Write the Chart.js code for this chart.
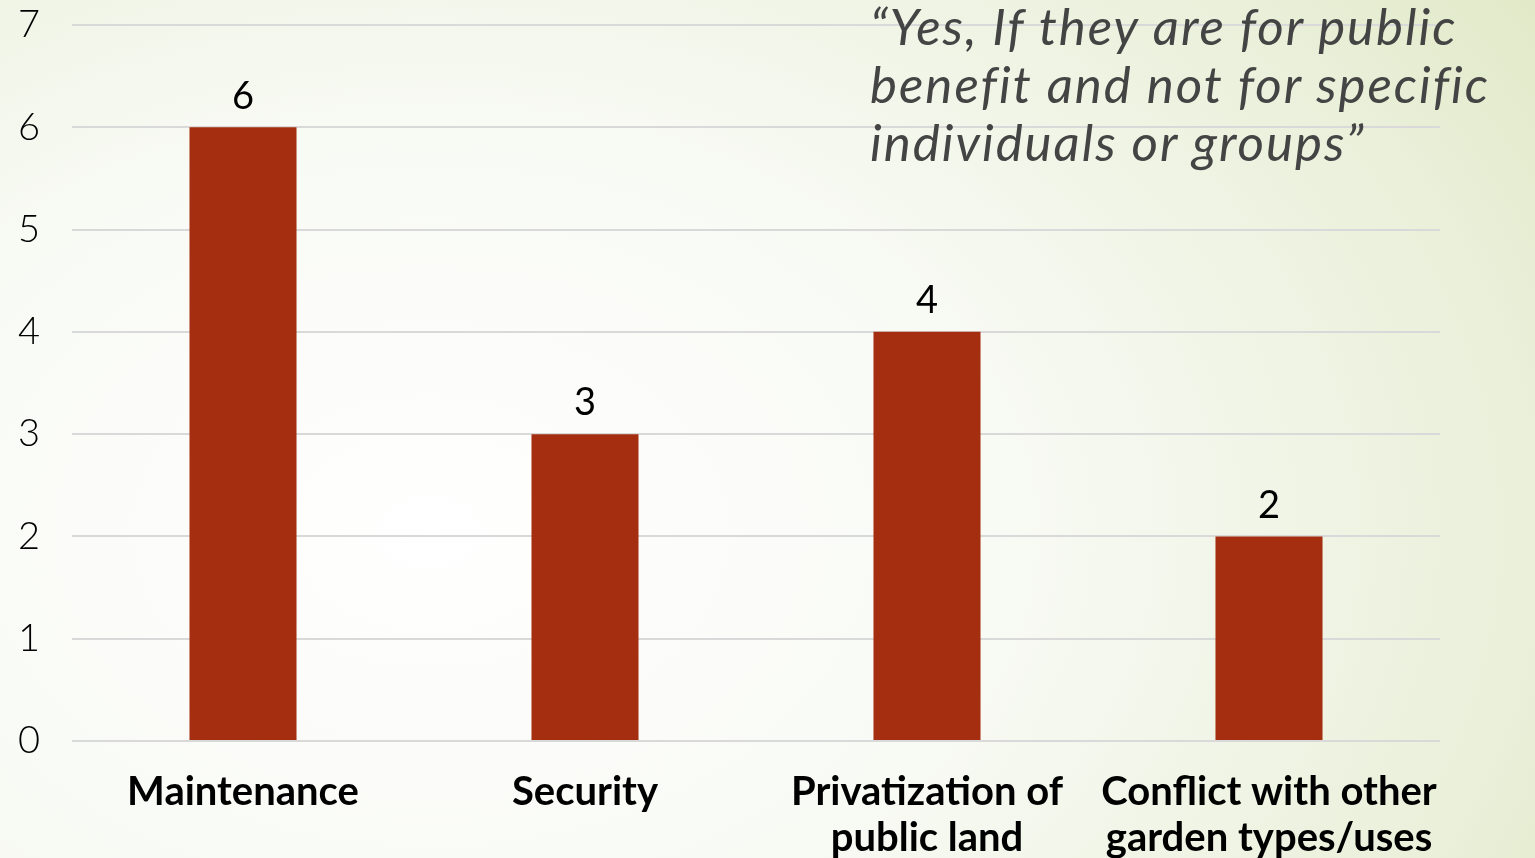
<!DOCTYPE html>
<html>
<head>
<meta charset="utf-8">
<script src="https://cdn.jsdelivr.net/npm/chart.js@4"></script>
<style>
  html, body {
    margin: 0;
    padding: 0;
    width: 1535px;
    height: 858px;
    overflow: hidden;
  }
  body {
    background: radial-gradient(ellipse 95% 120% at 28% 62%, #ffffff 0%, #f8faf4 40%, #eaf0da 75%, #dce6bf 100%);
    position: relative;
  }
  #wrap {
    position: absolute;
    left: 0;
    top: 0;
    width: 1535px;
    height: 858px;
  }
  #quote {
    position: absolute;
    left: 870px;
    top: -3px;
    font-family: Lato, sans-serif;
    font-style: italic;
    font-weight: 400;
    font-size: 51px;
    line-height: 58px;
    color: #444444;
    letter-spacing: 2px;
    white-space: nowrap;
    pointer-events: none;
  }
</style>
</head>
<body>
<div id="wrap"><canvas id="chart"></canvas></div>
<div id="quote">“Yes, If they are for public<br>benefit and not for specific<br>individuals or groups”</div>
<script>
  const categories = [
    "Maintenance",
    "Security",
    ["Privatization of", "public land"],
    ["Conflict with other", "garden types/uses"],
  ];
  const counts = [6, 3, 4, 2];
  const yTicks = [0, 1, 2, 3, 4, 5, 6, 7];

  // values drawn on top of each bar
  const barValues = {
    id: "barValues",
    afterDatasetsDraw(chart) {
      const { ctx } = chart;
      const meta = chart.getDatasetMeta(0);
      ctx.save();
      ctx.font = "38px Lato, sans-serif";
      ctx.fillStyle = "#000";
      ctx.textAlign = "center";
      ctx.textBaseline = "bottom";
      meta.data.forEach((bar, i) => {
        ctx.fillText(String(counts[i]), bar.x, bar.y - 12);
      });
      ctx.restore();
    },
  };

  new Chart(document.getElementById("chart"), {
    type: "bar",
    data: {
      labels: categories,
      datasets: [
        {
          data: counts,
          backgroundColor: "#a52e10",
          categoryPercentage: 1,
          barPercentage: 0.313,
        },
      ],
    },
    options: {
      responsive: true,
      maintainAspectRatio: false,
      animation: false,
      layout: {
        padding: { top: 0, right: 95, left: 0, bottom: 0 },
      },
      plugins: {
        legend: { display: false },
        tooltip: { enabled: false },
      },
      scales: {
        y: {
          min: 0,
          max: 7,
          afterFit(scale) {
            scale.width = 72;
            scale.paddingTop = 25;
            scale.paddingBottom = 0;
          },
          afterBuildTicks(scale) {
            scale.ticks = yTicks.map((v) => ({ value: v }));
          },
          ticks: {
            color: "#000",
            padding: 32,
            font: { family: "Lato, sans-serif", size: 38, weight: 300 },
          },
          border: { display: false },
          grid: {
            color: "#d9d9d9",
            lineWidth: 2,
            drawTicks: false,
          },
        },
        x: {
          afterFit(scale) {
            scale.height = 117;
          },
          ticks: {
            color: "#000",
            padding: 20,
            maxRotation: 0,
            autoSkip: false,
            font: { family: "Lato, sans-serif", size: 40, weight: 700, lineHeight: 1.15 },
          },
          border: { display: false },
          grid: { display: false },
        },
      },
    },
    plugins: [barValues],
  });
</script>
</body>
</html>
